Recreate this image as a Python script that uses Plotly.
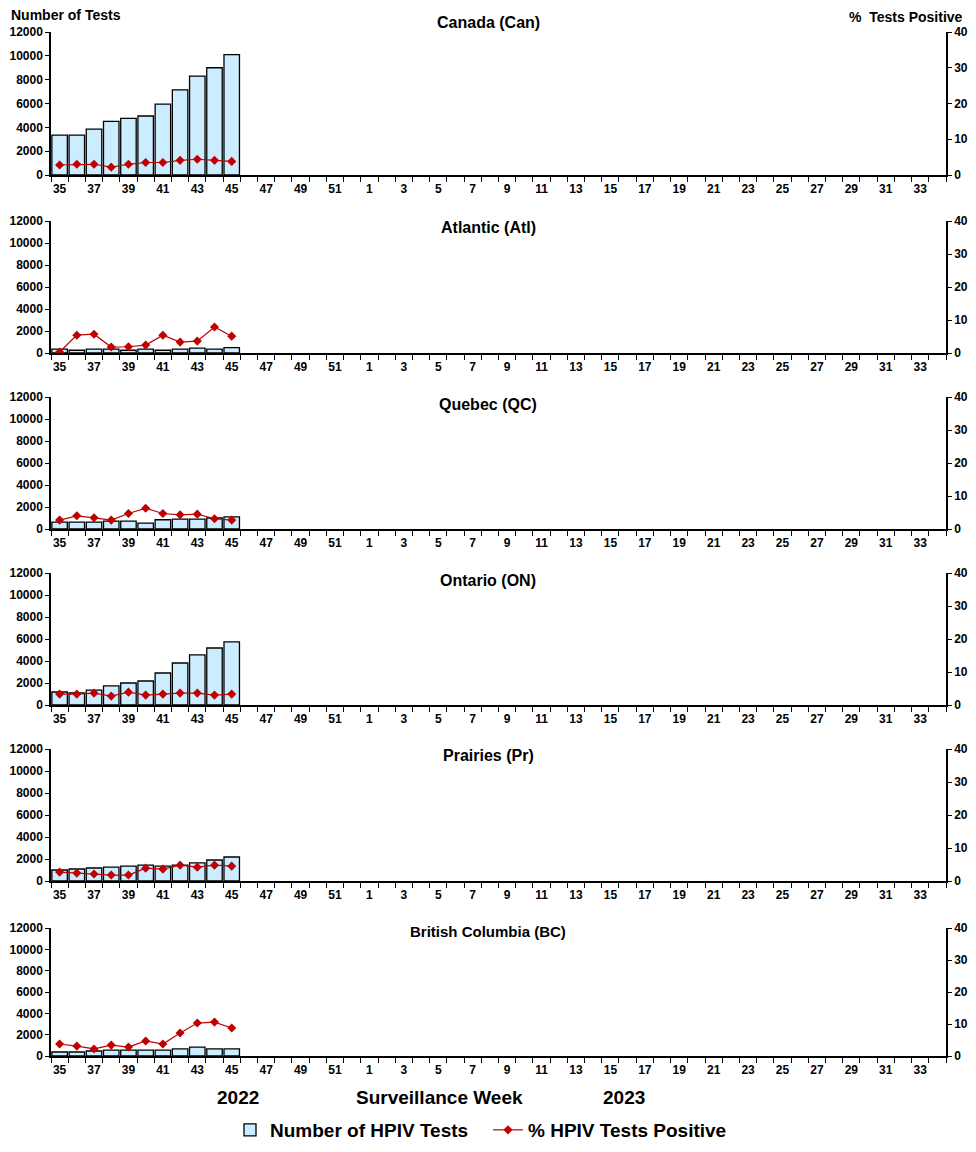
import plotly.graph_objects as go
from plotly.subplots import make_subplots

weeks = [str(w) for w in list(range(35, 53)) + list(range(1, 35))]
tick_labels = [w if i % 2 == 0 else "" for i, w in enumerate(weeks)]
data_weeks = [str(w) for w in range(35, 46)]

regions = ["Canada (Can)", "Atlantic (Atl)", "Quebec (QC)", "Ontario (ON)",
           "Prairies (Pr)", "British Columbia (BC)"]

tests_can = [3350, 3350, 3850, 4500, 4750, 4950, 5950, 7150, 8300, 9000, 10100]
pct_can = [2.8, 3.0, 3.0, 2.2, 3.0, 3.5, 3.5, 4.1, 4.4, 4.1, 3.8]
tests_atl = [360, 250, 360, 360, 250, 360, 250, 360, 450, 360, 480]
pct_atl = [0.3, 5.4, 5.7, 1.8, 1.9, 2.4, 5.4, 3.3, 3.6, 7.9, 5.1]
tests_qc = [630, 630, 630, 720, 720, 540, 840, 900, 900, 1000, 1100]
pct_qc = [2.7, 4.0, 3.4, 2.7, 4.7, 6.3, 4.7, 4.3, 4.5, 3.1, 2.7]
tests_on = [1180, 1090, 1360, 1730, 2000, 2180, 2910, 3820, 4550, 5180, 5730]
pct_on = [3.3, 3.3, 3.6, 2.7, 3.9, 3.0, 3.3, 3.6, 3.6, 3.0, 3.3]
tests_pr = [1000, 1090, 1180, 1270, 1360, 1450, 1360, 1450, 1640, 1910, 2180]
pct_pr = [2.7, 2.4, 2.1, 1.8, 1.8, 3.9, 3.6, 4.8, 4.2, 4.8, 4.5]
tests_bc = [375, 375, 470, 560, 560, 560, 560, 660, 840, 660, 660]
pct_bc = [3.75, 3.1, 2.2, 3.4, 2.8, 4.7, 3.75, 7.2, 10.3, 10.6, 8.75]

tests_all = [tests_can, tests_atl, tests_qc, tests_on, tests_pr, tests_bc]
pct_all = [pct_can, pct_atl, pct_qc, pct_on, pct_pr, pct_bc]

left_ticks = [0, 2000, 4000, 6000, 8000, 10000, 12000]
left_ticktext = [str(v) for v in left_ticks]
right_ticks = [0, 10, 20, 30, 40]
right_ticktext = [str(v) for v in right_ticks]

# page has an 8px body margin: work in screen pixels, convert to figure pixels
OFF = 8
W, H = 976 - 2 * OFF, 1152 - 2 * OFF
X0, X1 = 51, 946
Y0, Y1 = 32, 1056
ML = X0 - OFF
MR = W - (X1 - OFF)
MT = Y0 - OFF
MB = H - (Y1 - OFF)
PH = H - MT - MB
PW = W - ML - MR

def py(pix):
    return (Y1 - pix) / PH

def px(pix):
    return (pix - X0) / PW

panels_px = [(32, 175), (221, 353), (397, 529), (573, 705), (749, 881), (928, 1056)]
title_px = [22, 227, 404, 580, 755, 931]

fig = make_subplots(rows=6, cols=1, specs=[[{"secondary_y": True}]] * 6)

BAR_FILL = "#CCECFF"
RED = "#C00000"
FAM = "Liberation Sans, Arial"
bold = dict(family=FAM, size=12, color="black", weight="bold")

for i in range(6):
    r = i + 1
    fig.add_trace(go.Bar(x=data_weeks, y=tests_all[i], name="Number of HPIV Tests",
                         marker=dict(color=BAR_FILL, line=dict(color="black", width=1.3)),
                         showlegend=(i == 0), legendrank=1),
                  row=r, col=1, secondary_y=False)
    fig.add_trace(go.Scatter(x=data_weeks, y=pct_all[i], name="% HPIV Tests Positive",
                             mode="lines+markers",
                             line=dict(color=RED, width=1.2),
                             marker=dict(symbol="diamond", size=7, color=RED),
                             showlegend=(i == 0), legendrank=2),
                  row=r, col=1, secondary_y=True)

layout_upd = {}
for i in range(6):
    top, bot = panels_px[i]
    dom = [py(bot), py(top)]
    xa = "xaxis" if i == 0 else f"xaxis{i+1}"
    ya_l = "yaxis" if i == 0 else f"yaxis{2*i+1}"
    ya_r = f"yaxis{2*i+2}"
    layout_upd[xa] = dict(type="category", categoryorder="array", categoryarray=weeks,
                          range=[-0.5, len(weeks) - 0.5], tickmode="array",
                          tickvals=weeks, ticktext=tick_labels, tickson="boundaries",
                          ticks="outside", ticklen=5, tickwidth=1.3, tickcolor="black",
                          ticklabelstandoff=2,
                          showline=True, linecolor="black", linewidth=1.5,
                          showgrid=False, zeroline=False, tickangle=0, automargin=False,
                          domain=[0, 1], tickfont=bold, fixedrange=True)
    layout_upd[ya_l] = dict(domain=dom, range=[0, 12000], tickmode="array",
                            tickvals=left_ticks, ticktext=left_ticktext,
                            ticks="outside", ticklen=4, automargin=False,
                            tickwidth=1.3, tickcolor="black", showline=True,
                            linecolor="black", linewidth=1.5, showgrid=False,
                            zeroline=False, tickfont=bold)
    layout_upd[ya_r] = dict(domain=dom, range=[0, 40], tickmode="array",
                            tickvals=right_ticks, ticktext=right_ticktext,
                            ticks="outside", ticklen=4, automargin=False,
                            tickwidth=1.3, tickcolor="black", showline=True,
                            linecolor="black", linewidth=1.5, showgrid=False,
                            zeroline=False, tickfont=bold)
fig.update_layout(**layout_upd)

annotations = []
for i, name in enumerate(regions):
    annotations.append(dict(text=name, xref="paper", yref="paper", x=px(488),
                            y=py(title_px[i]), showarrow=False, xanchor="center", yanchor="middle",
                            font=dict(family=FAM, size=16 if i < 5 else 15,
                                      color="black", weight="bold")))
annotations.append(dict(text="Number of Tests", xref="paper", yref="paper",
                        x=px(9), y=py(15), showarrow=False,
                        xanchor="left", yanchor="middle",
                        font=dict(family=FAM, size=14, color="black", weight="bold")))
annotations.append(dict(text="%  Tests Positive", xref="paper", yref="paper",
                        x=px(965), y=py(17), showarrow=False,
                        xanchor="right", yanchor="middle",
                        font=dict(family=FAM, size=14, color="black", weight="bold")))
for txt, xc in [("2022", 238), ("Surveillance Week", 439), ("2023", 624)]:
    annotations.append(dict(text=txt, xref="paper", yref="paper",
                            x=px(xc), y=py(1097), showarrow=False,
                            xanchor="center", yanchor="middle",
                            font=dict(family=FAM, size=19, color="black", weight="bold")))

fig.update_layout(
    width=W, height=H,
    margin=dict(l=ML, r=MR, t=MT, b=MB, autoexpand=False),
    paper_bgcolor="white", plot_bgcolor="white",
    bargap=0.1,
    annotations=annotations,
    showlegend=True,
    legend=dict(orientation="h", x=px(230), xanchor="left",
                y=py(1130), yanchor="middle", traceorder="normal",
                entrywidth=213, entrywidthmode="pixels",
                font=dict(family=FAM, size=19, color="black", weight="bold"),
                bgcolor="rgba(0,0,0,0)"),
    font=dict(family=FAM, color="black"),
)

fig.write_html("out.html")
